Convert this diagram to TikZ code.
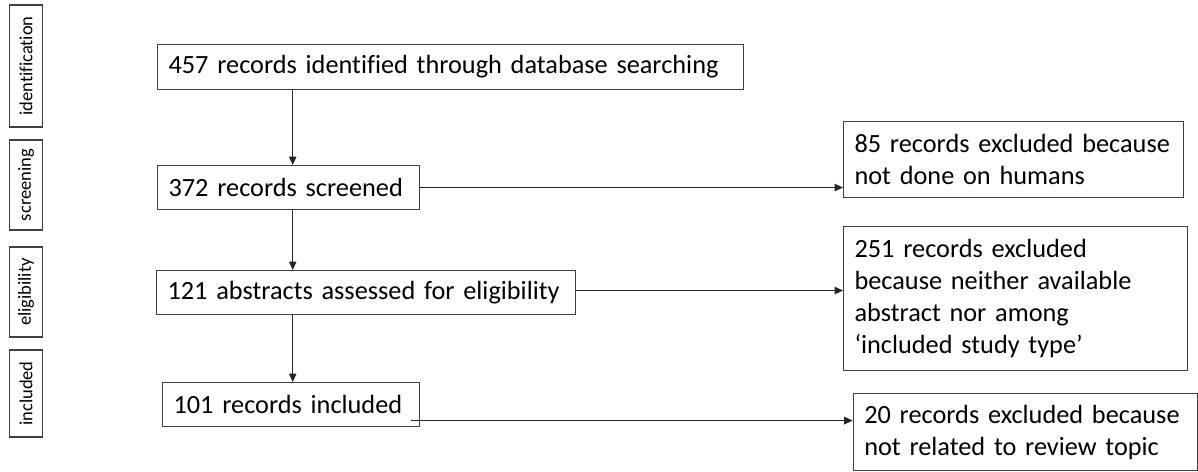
\documentclass[tikz,border=0pt]{standalone}
\usepackage{fontspec}
\setmainfont{Carlito}[Ligatures=NoCommon]
\usetikzlibrary{arrows.meta,calc}
\tikzset{
  box/.style={draw=black!75, line width=1.1pt, rectangle, anchor=north west,
    inner xsep=11pt, inner ysep=0pt, align=left, text=black,
    font=\fontsize{26.3}{32}\selectfont},
  stage/.style={draw=black!75, line width=1.1pt, rectangle, rotate=90,
    inner sep=0pt, minimum height=33.4pt, text=black,
    font=\fontsize{18.5}{21}\selectfont},
  conn/.style={draw=black!85, line width=1.1pt, -{Triangle[length=8.5pt,width=7.5pt]}}
}
\begin{document}
\begin{tikzpicture}[x=1pt,y=-1pt]
\useasboundingbox (0,0) rectangle (1198,471);
% stage labels
\node[stage, minimum width=122pt] (sid) at (26,66) {identification};
\node[stage, minimum width=90pt] (ssc) at (26,185) {screening};
\node[stage, minimum width=90pt] (sel) at (26,292) {eligibility};
\node[stage, minimum width=87pt] (sin) at (26,393.5) {included};
% main boxes
\node[box, text width=564pt, minimum height=44.7pt] (b1) at (157,44) {\mbox{457 records identified through database searching}};
\node[box, text width=240pt, minimum height=44pt] (b2) at (157,165) {\mbox{372 records screened}};
\node[box, text width=397pt, minimum height=44pt] (b3) at (156,270) {\mbox{121 abstracts assessed for eligibility}};
\node[box, text width=235pt, minimum height=44pt] (b4) at (162,382) {\mbox{101 records included}};
% exclusion boxes
\node[box, text width=318pt, minimum height=76pt] (r1) at (843,121) {\mbox{85 records excluded because}\\\mbox{not done on humans}};
\node[box, text width=322pt, minimum height=144pt] (r2) at (843,226) {\mbox{251 records excluded}\\\mbox{because neither available}\\\mbox{abstract nor among}\\\mbox{‘included study type’}};
\node[box, text width=322pt, minimum height=77pt] (r3) at (852.7,393) {\mbox{20 records excluded because}\\\mbox{not related to review topic}};
% axis for vertical arrows
\coordinate (ax) at (292.7,0);
\coordinate (s4) at ($(b4.south east)+(-9,-6.5)$);
\draw[conn] (b1.south -| ax) -- (b2.north -| ax);
\draw[conn] (b2.south -| ax) -- (b3.north -| ax);
\draw[conn] (b3.south -| ax) -- (b4.north -| ax);
\draw[conn] (b2.east) -- (b2.east -| r1.west);
\draw[conn] ($(b3.east)+(0,-2)$) -- ($(b3.east -| r2.west)+(0,-2)$);
\draw[conn] (s4) -- (s4 -| r3.west);
\end{tikzpicture}
\end{document}
